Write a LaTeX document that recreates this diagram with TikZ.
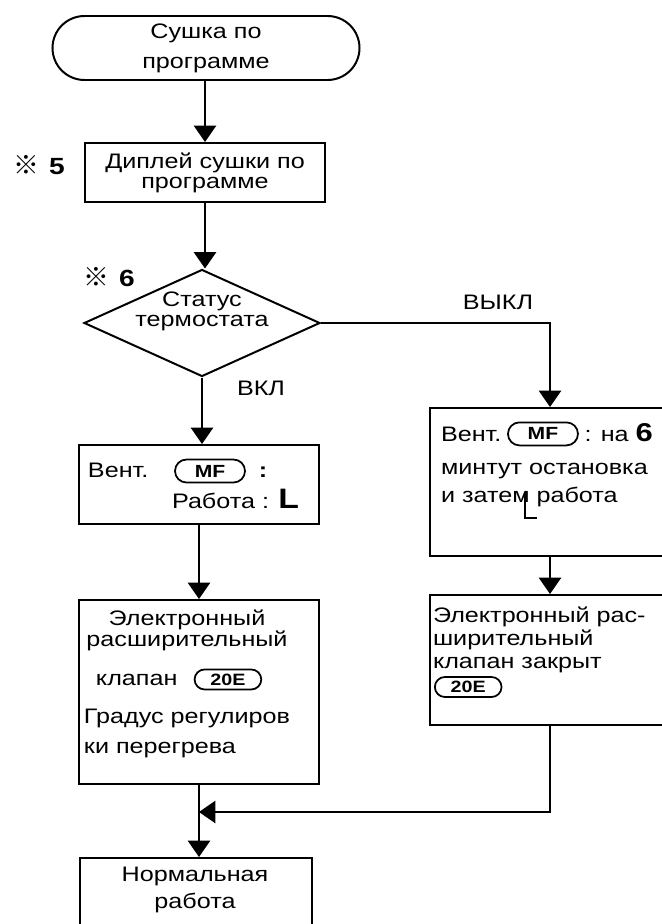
\documentclass[tikz,border=0pt]{standalone}
\usepackage{fontspec}
\setmainfont{Liberation Sans}[FakeStretch=1.2]
\newfontfamily\cjk{Noto Sans CJK SC}
\usetikzlibrary{arrows.meta,positioning,shapes.geometric,shapes.misc}
\newcommand{\lsk}[1]{\fontsize{17.9pt}{#1}\selectfont}

\begin{document}
\begin{tikzpicture}[
    x=0.03cm,y=-0.03cm,
    line width=1.7pt,
    font=\lsk{21pt},
    box/.style={draw,minimum width=7.2cm,inner sep=0pt},
    term/.style={draw,rounded rectangle,minimum width=9.21cm,minimum height=1.92cm,inner sep=0pt,align=center},
    dec/.style={draw,diamond,minimum width=7.08cm,minimum height=3.21cm,inner sep=0pt},
    pill/.style={draw,rounded rectangle,line width=1.5pt,inner sep=0pt,minimum width=2.1cm,minimum height=0.69cm,font=\bfseries\fontsize{15pt}{15pt}\selectfont},
    txt/.style={inner sep=0pt,align=left},
    note/.style={inner sep=0pt,font=\bfseries\fontsize{20pt}{20pt}\selectfont},
    arrow/.style={-{Triangle[length=14pt,width=19pt]}}
  ]
  \useasboundingbox (0,0) rectangle (661,924);

  % left column
  \node[term,font=\lsk{25.6pt}] (start) at (206,48) {Сушка по\\программе};
  \node[box,minimum height=1.77cm,align=center,font=\lsk{17pt}] (disp) at (205,172.5) {Диплей сушки по\\программе};
  \node[note,anchor=west] (n5) at (13,165) {{\cjk\fontsize{22pt}{22pt}\selectfont ※}\hspace{8pt}5};

  \node[dec] (stat) at (202,323) {};
  \node[txt,align=center,font=\lsk{17.1pt}] (stattxt) at (202,311) {Статус\\термостата};
  \node[note,anchor=west] (n6) at (83,277) {{\cjk\fontsize{22pt}{22pt}\selectfont ※}\hspace{8pt}6};

  \node[box,minimum height=2.37cm] (lvent) at (199,484.5) {};
  \node[txt,anchor=base west] (lv1) at (87,477) {Вент.};
  \node[pill] (lmf) at (210,471) {MF};
  \node[txt,anchor=base west] (lcol) at (258,477) {\textbf{:}};
  \node[txt,anchor=base east] (lv2) at (300,508) {Работа : {\bfseries\fontsize{24pt}{24pt}\selectfont L}};

  \node[box,minimum height=5.52cm] (lexp) at (199,692) {};
  \node[txt,align=center,font=\lsk{16.2pt}] (le1) at (187,630) {Электронный\\расширительный};
  \node[txt,anchor=base west] (lk) at (95,685) {клапан};
  \node[pill,right=13pt of lk,minimum width=2cm,minimum height=0.6cm,font=\bfseries\fontsize{14pt}{14pt}\selectfont] (l20) {20E};
  \node[txt,anchor=base west,font=\lsk{25.6pt}] (le2) at (83,753) {Градус регулиров\\ки перегрева};

  \node[box,minimum width=6.96cm,minimum height=2.58cm] (norm) at (196,901) {};
  \node[txt,align=center,font=\lsk{23pt}] (normtxt) at (195,890) {Нормальная\\работа};

  % right column
  \node[box,minimum height=4.44cm] (rvent) at (550,482) {};
  \node[txt,anchor=base west] (rv1) at (440,441) {Вент.};
  \node[pill,right=4pt of rv1] (rmf) {MF};
  \node[txt,anchor=base west] (rv2) at ([xshift=4pt]rmf.east |- rv1.base) {: на {\bfseries\fontsize{22pt}{22pt}\selectfont 6}};
  \node[txt,anchor=base west,font=\lsk{23.9pt}] (rv3) at (440,502) {минтут остановка\\и затем работа};
  \draw[line width=0.9pt] (525,492) |- (537,518);

  \node[box,minimum height=3.9cm] (rexp) at (550,660) {};
  \node[txt,anchor=base west,font=\lsk{19.6pt}] (re1) at (432,668) {Электронный рас-\\ширительный\\клапан закрыт};
  \node[pill,anchor=west,minimum width=2cm,minimum height=0.6cm,font=\bfseries\fontsize{14pt}{14pt}\selectfont] (r20) at (434,687) {20E};

  % labels
  \node[txt] (off) at (498,302) {ВЫКЛ};
  \node[txt] (on) at (261,388) {ВКЛ};

  % connectors
  \draw[arrow] (start.south -| disp.north) -- (disp.north);
  \draw[arrow] (disp.south) -- (disp.south |- stat.north);
  \draw[arrow] (stat.south) -- (stat.south |- lvent.north);
  \draw[arrow] (stat.east) -| (rvent.north);
  \draw[arrow] (lvent.south) -- (lexp.north);
  \draw[arrow] (rvent.south) -- (rexp.north);
  \draw[arrow] (lexp.south) -- (lexp.south |- norm.north);
  \coordinate (join) at (199,812);
  \draw[arrow] (rexp.south) |- (join);
\end{tikzpicture}
\end{document}
